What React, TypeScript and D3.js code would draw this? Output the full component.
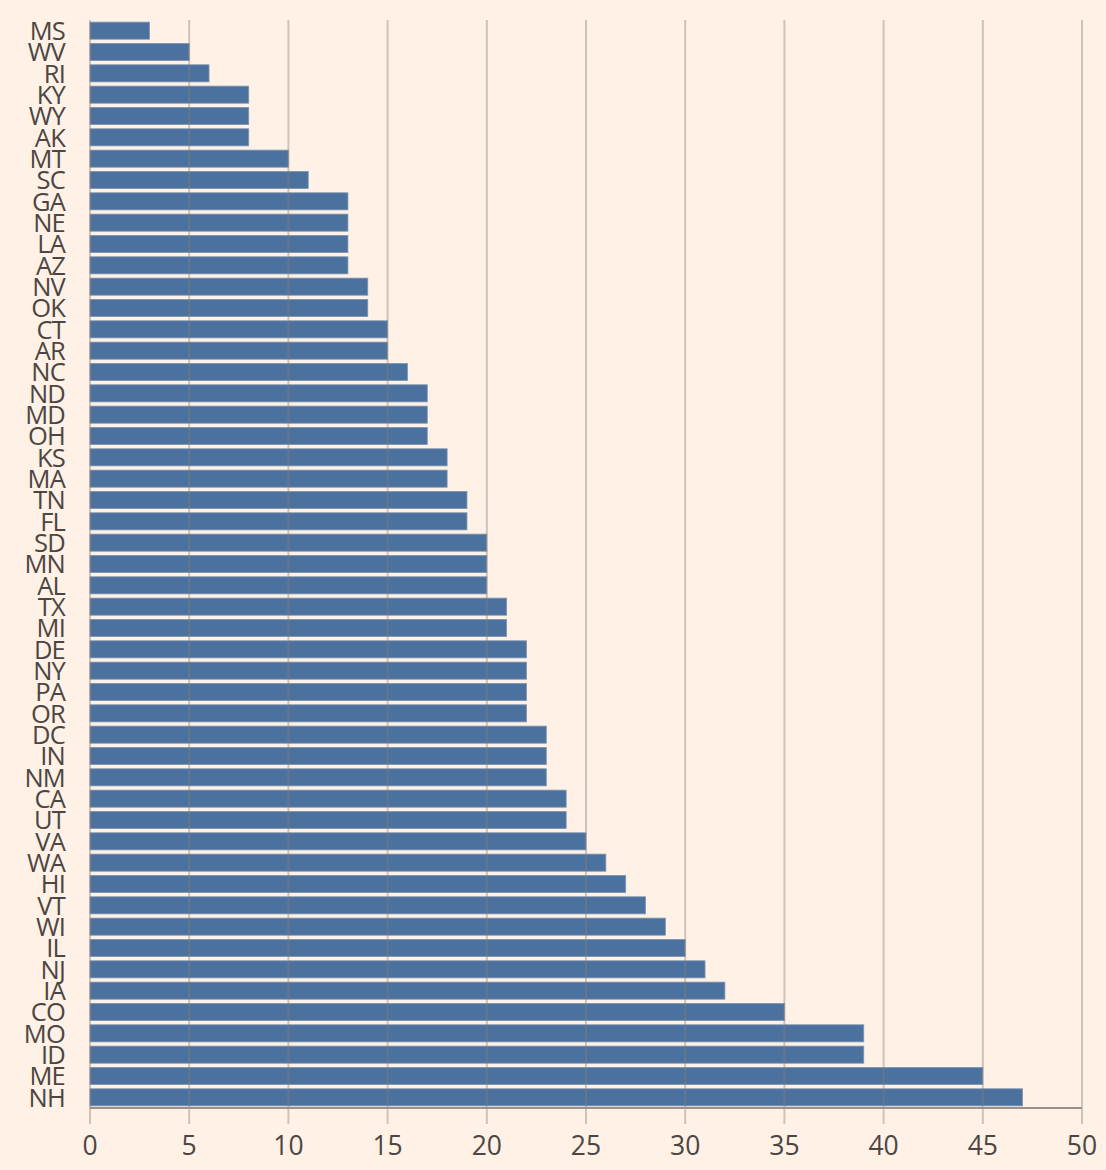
import React from "react";
import * as d3 from "d3";

const states = ["MS","WV","RI","KY","WY","AK","MT","SC","GA","NE","LA","AZ","NV","OK","CT","AR","NC","ND","MD","OH","KS","MA","TN","FL","SD","MN","AL","TX","MI","DE","NY","PA","OR","DC","IN","NM","CA","UT","VA","WA","HI","VT","WI","IL","NJ","IA","CO","MO","ID","ME","NH"];
const values = [3,5,6,8,8,8,10,11,13,13,13,13,14,14,15,15,16,17,17,17,18,18,19,19,20,20,20,21,21,22,22,22,22,23,23,23,24,24,25,26,27,28,29,30,31,32,35,39,39,45,47];
const xTicks = [0,5,10,15,20,25,30,35,40,45,50];

const W = 1106, H = 1170;
const left = 90, right = 1082, top = 20, bottom = 1108;

export default function App() {
  const x = d3.scaleLinear().domain([0, 50]).range([left, right]);
  const y = d3.scaleBand<string>().domain(states).range([top, bottom]).paddingInner(0.2).paddingOuter(0.1);
  const font = "'Open Sans', 'Noto Sans', sans-serif";
  const textColor = "#4b4643";
  return (
    <svg width={W} height={H} style={{ position: "absolute", left: 0, top: 0, background: "#FFF1E5" }}>
      <rect x={0} y={0} width={W} height={H} fill="#FFF1E5" />
      {states.map((s, i) => (
        <rect key={s} x={x(0)} y={y(s)!} width={x(values[i]) - x(0)} height={y.bandwidth()}
          fill="#4b719e" stroke="#7d95b5" strokeWidth={0.8} />
      ))}
      {xTicks.map(t => (
        <line key={t} x1={x(t)} x2={x(t)} y1={top} y2={bottom + 16} stroke="#8a7d74" strokeOpacity={0.4} strokeWidth={2} />
      ))}
      <line x1={x(0)} x2={x(50)} y1={bottom} y2={bottom} stroke="#9a918b" strokeWidth={2} />
      {xTicks.map(t => (
        <text key={"l" + t} x={x(t)} y={bottom + 47} textAnchor="middle" fontFamily={font} fontSize={26.5} fill={textColor}>{t}</text>
      ))}
      {states.map(s => (
        <text key={"s" + s} x={65} y={y(s)! + y.bandwidth() / 2} dy="0.37em" textAnchor="end" fontFamily={font} fontSize={25.5} letterSpacing={-0.8} fill={textColor}>{s}</text>
      ))}
    </svg>
  );
}
